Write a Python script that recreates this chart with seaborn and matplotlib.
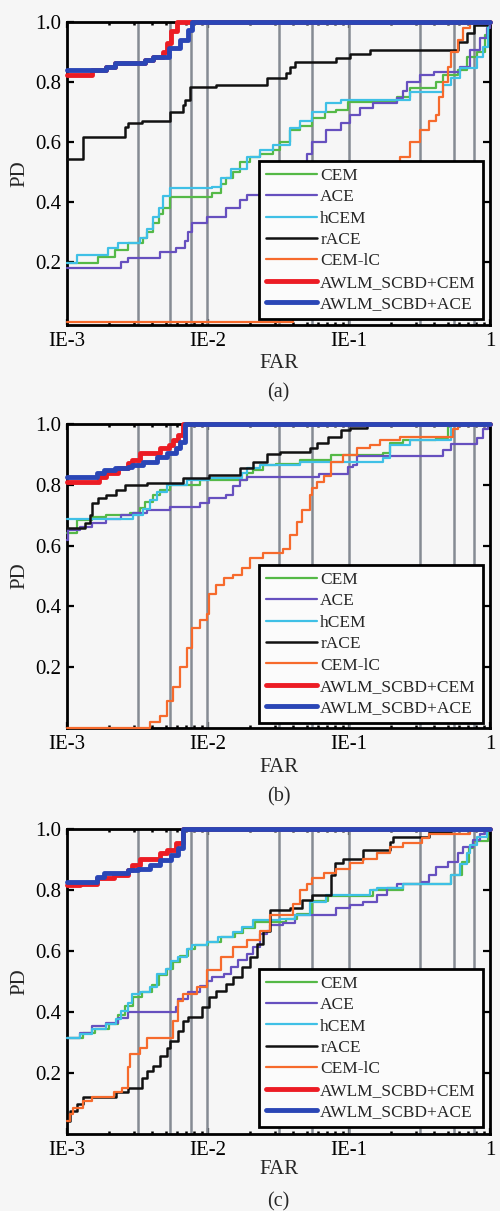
import numpy as np
import pandas as pd
import matplotlib
matplotlib.use("Agg")
import matplotlib.pyplot as plt
from matplotlib.lines import Line2D
from matplotlib.ticker import LogLocator, NullFormatter, FixedLocator, FixedFormatter
import seaborn as sns

# ---------------------------------------------------------------- data
# Each curve: log10(FAR) breakpoints and the PD reached from that point on.
METHODS = ["CEM", "ACE", "hCEM", "rACE", "CEM-lC", "AWLM_SCBD+CEM", "AWLM_SCBD+ACE"]

X_TICKS = [1e-3, 1e-2, 1e-1, 1.0]
X_TICK_LABELS = ["IE-3", "IE-2", "IE-1", "1"]
Y_TICKS = [0.2, 0.4, 0.6, 0.8, 1.0]
Y_TICK_LABELS = ["0.2", "0.4", "0.6", "0.8", "1.0"]
GRID_FAR = [0.0032, 0.0054, 0.0076, 0.0098, 0.032, 0.055, 0.1, 0.32, 0.56, 0.77]
PANEL_TAGS = ["(a)", "(b)", "(c)"]

# panel (a)
A_CEM_E = [-3.00, -2.78, -2.66, -2.57, -2.46, -2.43, -2.39, -2.35, -2.32, -2.27, -1.97, -1.91, -1.87, -1.82, -1.77, -1.70, -1.63, -1.54, -1.49, -1.42, -1.35, -1.26, -1.17, -1.09, -1.01, -0.66, -0.57, -0.38, -0.33, -0.23, -0.16, -0.09, -0.035, -0.015, 0.0]
A_CEM_PD = [0.197, 0.217, 0.24, 0.263, 0.28, 0.30, 0.33, 0.36, 0.38, 0.417, 0.43, 0.46, 0.48, 0.50, 0.533, 0.55, 0.56, 0.573, 0.60, 0.64, 0.655, 0.68, 0.70, 0.707, 0.733, 0.75, 0.78, 0.80, 0.823, 0.84, 0.883, 0.90, 0.957, 1.0, 1.0]
A_ACE_E = [-3.00, -2.62, -2.57, -2.34, -2.23, -2.16, -2.14, -2.11, -2.01, -1.87, -1.77, -1.72, -1.54, -1.49, -1.42, -1.35, -1.30, -1.26, -1.16, -1.06, -0.99, -0.92, -0.83, -0.66, -0.62, -0.59, -0.50, -0.40, -0.21, -0.14, -0.07, -0.02, 0.0]
A_ACE_PD = [0.18, 0.20, 0.213, 0.233, 0.247, 0.27, 0.30, 0.33, 0.35, 0.38, 0.407, 0.423, 0.44, 0.46, 0.49, 0.52, 0.56, 0.60, 0.64, 0.663, 0.69, 0.713, 0.73, 0.747, 0.77, 0.80, 0.823, 0.833, 0.85, 0.907, 0.947, 0.98, 1.0]
A_HCEM_E = [-3.00, -2.93, -2.71, -2.64, -2.48, -2.43, -2.39, -2.35, -2.32, -2.27, -1.97, -1.91, -1.84, -1.72, -1.63, -1.54, -1.42, -1.35, -1.26, -1.16, -1.06, -0.57, -0.33, -0.28, -0.21, -0.09, -0.05, -0.015, 0.0]
A_HCEM_PD = [0.197, 0.223, 0.247, 0.263, 0.28, 0.31, 0.35, 0.38, 0.42, 0.447, 0.45, 0.48, 0.51, 0.55, 0.575, 0.59, 0.647, 0.67, 0.70, 0.73, 0.74, 0.767, 0.79, 0.813, 0.847, 0.883, 0.917, 1.0, 1.0]
A_RACE_E = [-3.00, -2.89, -2.59, -2.57, -2.47, -2.27, -2.18, -2.16, -2.13, -1.94, -1.58, -1.45, -1.42, -1.38, -1.09, -0.99, -0.85, -0.23, -0.16, -0.11, -0.02, 0.0]
A_RACE_PD = [0.543, 0.617, 0.65, 0.663, 0.67, 0.70, 0.723, 0.74, 0.783, 0.79, 0.813, 0.83, 0.85, 0.867, 0.88, 0.893, 0.907, 0.933, 0.963, 0.99, 1.0, 1.0]
A_CEMIC_E = [-3.00, -1.40, -1.28, -1.13, -0.92, -0.74, -0.64, -0.57, -0.50, -0.43, -0.38, -0.36, -0.33, -0.30, -0.28, -0.23, -0.19, -0.14, 0.0]
A_CEMIC_PD = [0.0, 0.03, 0.12, 0.25, 0.38, 0.48, 0.55, 0.60, 0.64, 0.67, 0.69, 0.75, 0.80, 0.85, 0.90, 0.94, 0.98, 1.0, 1.0]
A_AWCEM_E = [-3.00, -2.82, -2.72, -2.66, -2.45, -2.39, -2.32, -2.29, -2.26, -2.22, 0.0]
A_AWCEM_PD = [0.823, 0.84, 0.85, 0.863, 0.873, 0.883, 0.90, 0.93, 0.97, 1.0, 1.0]
A_AWACE_E = [-3.00, -2.72, -2.66, -2.45, -2.39, -2.28, -2.20, -2.14, -2.11, 0.0]
A_AWACE_PD = [0.84, 0.85, 0.863, 0.873, 0.883, 0.913, 0.94, 0.973, 1.0, 1.0]

# panel (b)
B_CEM_E = [-3.00, -2.93, -2.82, -2.72, -2.55, -2.48, -2.45, -2.39, -2.34, -2.27, -2.06, -1.72, -1.68, -1.61, -1.52, -1.35, -1.13, -0.76, -0.71, -0.62, -0.38, -0.30, 0.0]
B_CEM_PD = [0.643, 0.685, 0.695, 0.70, 0.708, 0.724, 0.745, 0.767, 0.784, 0.80, 0.816, 0.84, 0.85, 0.866, 0.87, 0.882, 0.898, 0.905, 0.937, 0.948, 0.953, 1.0, 1.0]
B_ACE_E = [-3.00, -2.99, -2.91, -2.82, -2.72, -2.62, -2.53, -2.43, -2.27, -2.06, -1.99, -1.87, -1.82, -1.77, -1.72, -1.21, -1.01, -0.97, -0.94, -0.33, -0.28, -0.09, -0.05, -0.015, 0.0]
B_ACE_PD = [0.62, 0.652, 0.66, 0.675, 0.688, 0.70, 0.708, 0.718, 0.727, 0.74, 0.757, 0.767, 0.795, 0.816, 0.827, 0.837, 0.858, 0.866, 0.895, 0.915, 0.935, 0.955, 0.985, 1.0, 1.0]
B_HCEM_E = [-3.00, -2.53, -2.46, -2.41, -2.36, -2.29, -2.15, -1.99, -1.76, -1.72, -1.63, -1.35, -0.76, -0.71, -0.57, -0.28, 0.0]
B_HCEM_PD = [0.688, 0.70, 0.72, 0.75, 0.777, 0.80, 0.816, 0.823, 0.84, 0.856, 0.866, 0.876, 0.888, 0.93, 0.948, 1.0, 1.0]
B_RACE_E = [-3.00, -2.87, -2.84, -2.82, -2.78, -2.72, -2.65, -2.59, -2.43, -2.18, -1.99, -1.77, -1.68, -1.58, -1.49, -1.28, -1.23, -1.15, -1.06, -0.99, -0.87, 0.0]
B_RACE_PD = [0.659, 0.675, 0.70, 0.74, 0.757, 0.767, 0.784, 0.80, 0.806, 0.823, 0.833, 0.856, 0.876, 0.90, 0.908, 0.92, 0.937, 0.958, 0.98, 0.987, 1.0, 1.0]
B_CEMIC_E = [-3.00, -2.41, -2.34, -2.29, -2.25, -2.20, -2.15, -2.11, -2.06, -2.01, -1.99, -1.94, -1.89, -1.82, -1.76, -1.70, -1.61, -1.47, -1.42, -1.37, -1.33, -1.28, -1.26, -1.23, -1.18, -1.13, -1.04, -0.94, -0.85, -0.78, -0.64, -0.26, -0.23, 0.0]
B_CEMIC_PD = [0.0, 0.02, 0.04, 0.09, 0.134, 0.20, 0.265, 0.33, 0.357, 0.374, 0.44, 0.472, 0.495, 0.505, 0.527, 0.56, 0.577, 0.59, 0.636, 0.678, 0.718, 0.767, 0.79, 0.81, 0.83, 0.876, 0.898, 0.92, 0.931, 0.948, 0.958, 0.985, 1.0, 1.0]
B_AWCEM_E = [-3.00, -2.77, -2.72, -2.64, -2.57, -2.54, -2.48, -2.34, -2.28, -2.25, -2.21, -2.18, 0.0]
B_AWCEM_PD = [0.811, 0.827, 0.84, 0.856, 0.872, 0.882, 0.905, 0.921, 0.931, 0.948, 0.964, 1.0, 1.0]
B_AWACE_E = [-3.00, -2.79, -2.74, -2.66, -2.57, -2.54, -2.46, -2.36, -2.29, -2.23, -2.20, -2.16, 0.0]
B_AWACE_PD = [0.827, 0.84, 0.85, 0.856, 0.86, 0.866, 0.876, 0.892, 0.905, 0.92, 0.941, 1.0, 1.0]

# panel (c)
C_CEM_E = [-3.00, -2.89, -2.80, -2.70, -2.64, -2.59, -2.53, -2.47, -2.40, -2.35, -2.29, -2.25, -2.20, -2.14, -2.09, -2.00, -1.91, -1.81, -1.75, -1.67, -1.45, -1.37, -1.26, -1.15, -0.83, -0.62, -0.28, -0.20, -0.15, -0.12, -0.015, 0.0]
C_CEM_PD = [0.313, 0.33, 0.345, 0.36, 0.39, 0.42, 0.45, 0.465, 0.49, 0.52, 0.54, 0.565, 0.585, 0.605, 0.62, 0.63, 0.645, 0.66, 0.675, 0.695, 0.705, 0.72, 0.765, 0.78, 0.80, 0.82, 0.848, 0.89, 0.936, 0.96, 1.0, 1.0]
C_ACE_E = [-3.00, -2.91, -2.82, -2.72, -2.64, -2.57, -2.23, -2.21, -2.14, -2.06, -2.01, -1.97, -1.89, -1.84, -1.79, -1.72, -1.68, -1.63, -1.58, -1.56, -1.47, -1.38, -1.09, -0.99, -0.90, -0.80, -0.73, -0.66, -0.48, -0.43, -0.38, -0.30, -0.23, -0.19, -0.12, -0.07, -0.035, 0.0]
C_ACE_PD = [0.313, 0.33, 0.355, 0.365, 0.38, 0.40, 0.415, 0.443, 0.465, 0.486, 0.502, 0.513, 0.525, 0.547, 0.569, 0.591, 0.612, 0.657, 0.667, 0.684, 0.69, 0.717, 0.74, 0.75, 0.76, 0.783, 0.805, 0.82, 0.827, 0.848, 0.876, 0.892, 0.92, 0.942, 0.963, 0.985, 1.0, 1.0]
C_HCEM_E = [-3.00, -2.91, -2.82, -2.72, -2.65, -2.62, -2.57, -2.54, -2.48, -2.41, -2.36, -2.30, -2.26, -2.21, -2.15, -2.11, -2.01, -1.93, -1.82, -1.76, -1.68, -1.49, -1.38, -1.28, -1.16, -0.85, -0.80, -0.62, -0.28, -0.21, -0.16, -0.14, -0.09, -0.02, 0.0]
C_HCEM_PD = [0.313, 0.328, 0.345, 0.36, 0.377, 0.404, 0.43, 0.458, 0.465, 0.481, 0.525, 0.54, 0.568, 0.58, 0.607, 0.618, 0.63, 0.645, 0.662, 0.678, 0.70, 0.705, 0.717, 0.76, 0.783, 0.80, 0.805, 0.82, 0.848, 0.886, 0.92, 0.946, 0.974, 1.0, 1.0]
C_RACE_E = [-3.00, -2.98, -2.93, -2.89, -2.65, -2.57, -2.47, -2.43, -2.39, -2.34, -2.29, -2.27, -2.21, -2.18, -2.14, -2.04, -1.99, -1.94, -1.87, -1.82, -1.76, -1.70, -1.65, -1.61, -1.56, -1.42, -1.33, -1.26, -1.13, -1.10, -1.04, -0.90, -0.71, -0.69, -0.43, -0.28, 0.0]
C_RACE_PD = [0.043, 0.075, 0.097, 0.12, 0.136, 0.152, 0.185, 0.207, 0.223, 0.256, 0.283, 0.305, 0.338, 0.371, 0.382, 0.415, 0.448, 0.47, 0.492, 0.514, 0.547, 0.58, 0.624, 0.667, 0.733, 0.74, 0.766, 0.783, 0.848, 0.887, 0.903, 0.93, 0.958, 0.974, 0.99, 1.0, 1.0]
C_CEMIC_E = [-3.00, -2.98, -2.96, -2.89, -2.82, -2.67, -2.61, -2.57, -2.55, -2.48, -2.43, -2.25, -2.21, -2.18, -2.08, -2.01, -1.91, -1.82, -1.72, -1.63, -1.56, -1.40, -1.35, -1.30, -1.26, -1.18, -1.09, -0.99, -0.90, -0.80, -0.71, -0.62, -0.48, -0.43, -0.14, 0.0]
C_CEMIC_PD = [0.043, 0.065, 0.086, 0.108, 0.12, 0.136, 0.152, 0.218, 0.262, 0.283, 0.316, 0.371, 0.437, 0.459, 0.481, 0.536, 0.58, 0.612, 0.635, 0.667, 0.717, 0.755, 0.80, 0.82, 0.838, 0.854, 0.87, 0.887, 0.903, 0.92, 0.942, 0.953, 0.969, 0.985, 1.0, 1.0]
C_AWCEM_E = [-3.00, -2.91, -2.79, -2.67, -2.57, -2.54, -2.48, -2.34, -2.29, -2.23, -2.18, 0.0]
C_AWCEM_PD = [0.816, 0.82, 0.838, 0.85, 0.865, 0.882, 0.903, 0.92, 0.93, 0.953, 1.0, 1.0]
C_AWACE_E = [-3.00, -2.79, -2.74, -2.57, -2.50, -2.41, -2.34, -2.26, -2.21, -2.18, 0.0]
C_AWACE_PD = [0.826, 0.843, 0.854, 0.865, 0.87, 0.882, 0.898, 0.914, 0.936, 1.0, 1.0]

PANELS = [
    [(A_CEM_E, A_CEM_PD), (A_ACE_E, A_ACE_PD), (A_HCEM_E, A_HCEM_PD), (A_RACE_E, A_RACE_PD),
     (A_CEMIC_E, A_CEMIC_PD), (A_AWCEM_E, A_AWCEM_PD), (A_AWACE_E, A_AWACE_PD)],
    [(B_CEM_E, B_CEM_PD), (B_ACE_E, B_ACE_PD), (B_HCEM_E, B_HCEM_PD), (B_RACE_E, B_RACE_PD),
     (B_CEMIC_E, B_CEMIC_PD), (B_AWCEM_E, B_AWCEM_PD), (B_AWACE_E, B_AWACE_PD)],
    [(C_CEM_E, C_CEM_PD), (C_ACE_E, C_ACE_PD), (C_HCEM_E, C_HCEM_PD), (C_RACE_E, C_RACE_PD),
     (C_CEMIC_E, C_CEMIC_PD), (C_AWCEM_E, C_AWCEM_PD), (C_AWACE_E, C_AWACE_PD)],
]

# ---------------------------------------------------------------- style
COLORS = {
    "CEM": "#55b947",
    "ACE": "#6650bf",
    "hCEM": "#3fc0e6",
    "rACE": "#111111",
    "CEM-lC": "#f66a2c",
    "AWLM_SCBD+CEM": "#ec1c24",
    "AWLM_SCBD+ACE": "#2a46b6",
}
WIDTHS = {
    "CEM": 1.6, "ACE": 1.6, "hCEM": 1.6, "rACE": 1.8, "CEM-lC": 1.6,
    "AWLM_SCBD+CEM": 3.5, "AWLM_SCBD+ACE": 3.5,
}

sns.set_theme(style="white")
plt.rcParams["font.family"] = ["Liberation Serif", "DejaVu Serif"]

BG = "#f6f6f6"
fig = plt.figure(figsize=(5.0, 12.11), dpi=100, facecolor=BG)

# axes rectangles (figure fractions), y-limits and legend bottom per panel
BOXES = [
    (0.134, 0.7316, 0.846, 0.2502),
    (0.134, 0.3988, 0.846, 0.2510),
    (0.134, 0.0636, 0.846, 0.2519),
]
YLIMS = [(-0.01, 1.0), (0.0, 1.0), (0.0, 1.0)]
LEG_Y = [0.02, 0.016, 0.023]
FAR_Y = [0.7002, 0.3666, 0.0339]
TAG_Y = [0.6755, 0.3419, 0.0074]
PD_Y = [0.857, 0.5244, 0.1895]

for k, curves in enumerate(PANELS):
    ax = fig.add_axes(BOXES[k])
    ax.set_facecolor(BG)
    ax.set_xscale("log")
    ax.set_xlim(1e-3, 1.0)
    ax.set_ylim(*YLIMS[k])

    for g in GRID_FAR:
        ax.axvline(g, color="#858b93", lw=1.8, zorder=1)

    for name, (exps, pds) in zip(METHODS, curves):
        df = pd.DataFrame({"FAR": 10.0 ** np.asarray(exps), "PD": pds})
        sns.lineplot(data=df, x="FAR", y="PD", ax=ax, estimator=None, sort=False,
                     color=COLORS[name], linewidth=WIDTHS[name],
                     drawstyle="steps-post", clip_on=False, zorder=3)

    ax.set_xlabel("")
    ax.set_ylabel("")

    ax.xaxis.set_major_locator(FixedLocator(X_TICKS))
    ax.xaxis.set_major_formatter(FixedFormatter(X_TICK_LABELS))
    ax.xaxis.set_minor_locator(LogLocator(base=10, subs=np.arange(2, 10)))
    ax.xaxis.set_minor_formatter(NullFormatter())
    ax.yaxis.set_major_locator(FixedLocator(Y_TICKS))
    ax.yaxis.set_major_formatter(FixedFormatter(Y_TICK_LABELS))

    ax.tick_params(axis="x", which="major", direction="in", top=True, bottom=True,
                   length=4, width=1.6, labelsize=15, pad=5, colors="black")
    ax.tick_params(axis="x", which="minor", direction="in", top=True, bottom=True,
                   length=2.5, width=1.8, colors="black")
    ax.tick_params(axis="y", which="major", direction="in", left=True, right=True,
                   length=5, width=1.6, labelsize=15, pad=4, colors="black")
    for sp in ax.spines.values():
        sp.set_visible(True)
        sp.set_color("black")
        sp.set_linewidth(2.0)

    handles = [Line2D([], [], color=COLORS[m], lw=WIDTHS[m]) for m in METHODS]
    leg = ax.legend(handles, METHODS, loc="lower right", bbox_to_anchor=(0.983, LEG_Y[k]),
                    frameon=True, fancybox=False, edgecolor="black", facecolor="#fbfbfb",
                    framealpha=1.0, fontsize=12.5, handlelength=2.9, handletextpad=0.2,
                    labelspacing=0.3, borderpad=0.4, borderaxespad=0.0)
    leg.get_frame().set_linewidth(2.0)
    leg.set_zorder(6)

    fig.text(0.557, FAR_Y[k], "FAR", ha="center", va="center", fontsize=15)
    fig.text(0.557, TAG_Y[k], PANEL_TAGS[k], ha="center", va="center", fontsize=14.5)
    fig.text(0.04, PD_Y[k], "PD", ha="center", va="center", rotation=90, fontsize=15)

fig.savefig("out.png", dpi=100, facecolor=BG)
